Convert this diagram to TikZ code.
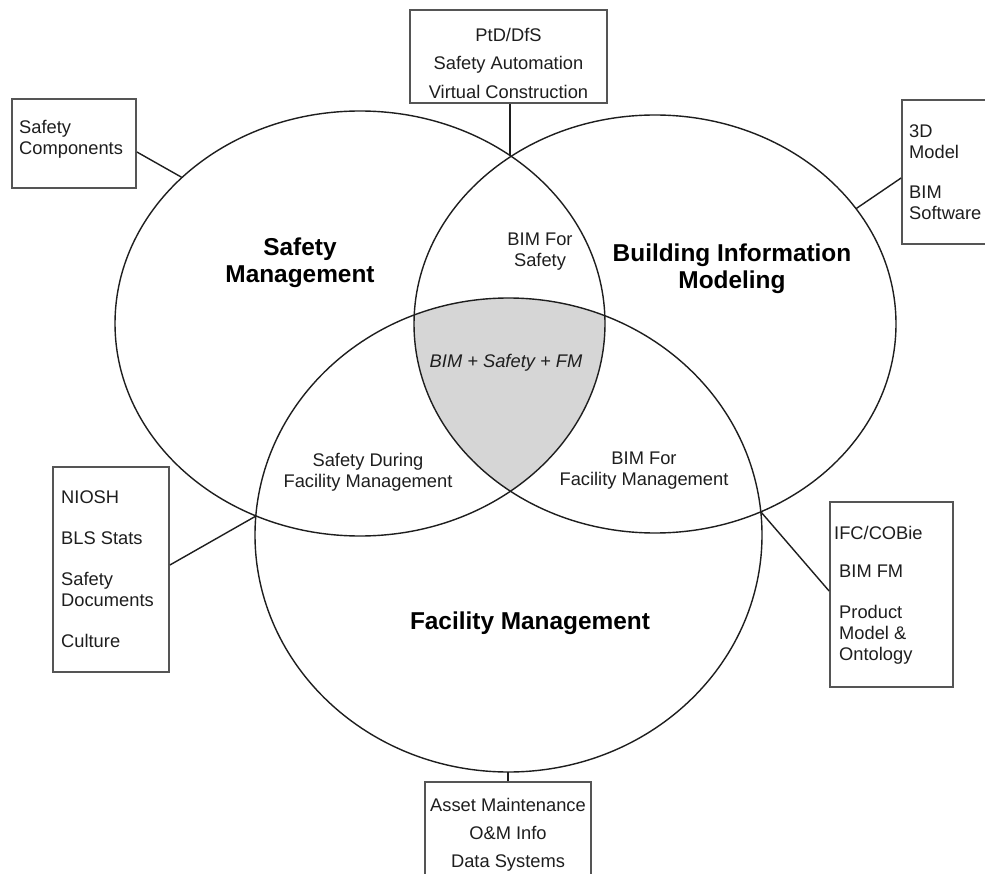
\documentclass[tikz,border=0pt]{standalone}
\usepackage{fontspec}
\setmainfont{Liberation Sans}
\usetikzlibrary{calc}
\definecolor{ink}{HTML}{1E1E1E}
\definecolor{framegray}{HTML}{555555}
\definecolor{overlapgray}{HTML}{D6D6D6}
\tikzset{
  setline/.style={draw=ink, line width=1.4pt},
  frame/.style={draw=framegray, line width=1.8pt, inner sep=0pt, fill=white},
  lbl/.style={text=ink, font=\fontsize{18.3}{21}\selectfont, inner sep=0pt},
  title/.style={text=black, font=\fontsize{24.4}{27}\selectfont\bfseries, align=center, inner sep=0pt},
  link/.style={draw=ink, line width=1.4pt},
}
\begin{document}
\begin{tikzpicture}[x=1pt,y=-1pt]
\useasboundingbox (0,0) rectangle (985,874);
\clip (0,0) rectangle (985,874);
\fill[white] (0,0) rectangle (985,874);

% region shared by all three sets
\begin{scope}
  \clip (360,323.5) ellipse [x radius=245pt, y radius=212.5pt];
  \clip (655,324) ellipse [x radius=241pt, y radius=209pt];
  \fill[fill=overlapgray] (508.5,535) ellipse [x radius=253.5pt, y radius=237pt];
\end{scope}

% the three sets
\draw[setline] (360,323.5) ellipse [x radius=245pt, y radius=212.5pt];
\draw[setline] (655,324) ellipse [x radius=241pt, y radius=209pt];
\draw[setline] (508.5,535) ellipse [x radius=253.5pt, y radius=237pt];

% attachment points on the outlines
\coordinate (topx) at (510,155.4);
\coordinate (leftx) at (256,516);
\coordinate (rightx) at (761,512);
\coordinate (smpt) at (182,177.5);
\coordinate (bimpt) at (856,208.7);
\coordinate (fmbot) at (508,772);

% side boxes
\node[frame, minimum width=124pt, minimum height=89pt] (scbox) at (74,143.5) {};
\node[frame, minimum width=197pt, minimum height=93pt] (ptdbox) at (508.5,56.5) {};
\node[frame, minimum width=98pt, minimum height=144pt] (bimbox) at (951,172) {};
\node[frame, minimum width=116pt, minimum height=205pt] (nioshbox) at (111,569.5) {};
\node[frame, minimum width=123pt, minimum height=185pt] (ifcbox) at (891.5,594.5) {};
\node[frame, minimum width=166pt, minimum height=118pt] (ambox) at (508,841) {};

% connectors
\draw[link] ([yshift=-8.5pt]scbox.east) -- (smpt);
\draw[link] (topx |- ptdbox.south) -- (topx);
\draw[link] ([yshift=-6pt]bimbox.west) -- (bimpt);
\draw[link] ([yshift=4.5pt]nioshbox.east) -- (leftx);
\draw[link] ([yshift=3.5pt]ifcbox.west) -- (rightx);
\draw[link] (fmbot) -- (fmbot |- ambox.north);

% set titles
\node[title] (smt) at (300,263) {Safety\\Management};
\node[title] (bimt) at (732,269) {Building Information\\Modeling};
\node[title] (fmt) at (530,623) {Facility Management};

% overlap labels
\node[lbl, align=center] (bs) at (540,252) {BIM For\\Safety};
\node[lbl, font=\fontsize{18.3}{21}\selectfont\itshape] (core) at (506,363) {BIM + Safety + FM};
\node[lbl, align=center] (sdfm) at (368,472) {Safety During\\Facility Management};
\node[lbl, align=center] (bfm) at (644,471) {BIM For\\Facility Management};

% box contents
\node[lbl, align=left, anchor=west] (sctxt) at (19,139) {Safety\\Components};
\node[lbl, align=center, font=\fontsize{18.3}{28.5}\selectfont] (ptdtxt) at (508.5,63) {PtD/DfS\\Safety Automation\\Virtual Construction};
\node[lbl, align=left, anchor=west] (bimtxt) at (909,172) {3D\\Model\\[19pt]BIM\\Software};
\node[lbl, align=left, anchor=west] (niotxt) at (61,569) {NIOSH\\[20pt]BLS Stats\\[20pt]Safety\\Documents\\[20pt]Culture};
\node[lbl, anchor=west] (ifctxt) at (834,533) {IFC/COBie};
\node[lbl, align=left, anchor=west] (fmtxt) at (839,615) {BIM FM\\[20pt]Product\\Model \&\\Ontology};
\node[lbl, align=center, font=\fontsize{18.3}{28}\selectfont] (amtxt) at (508,835) {Asset Maintenance\\O\&M Info\\Data Systems};
\end{tikzpicture}
\end{document}
